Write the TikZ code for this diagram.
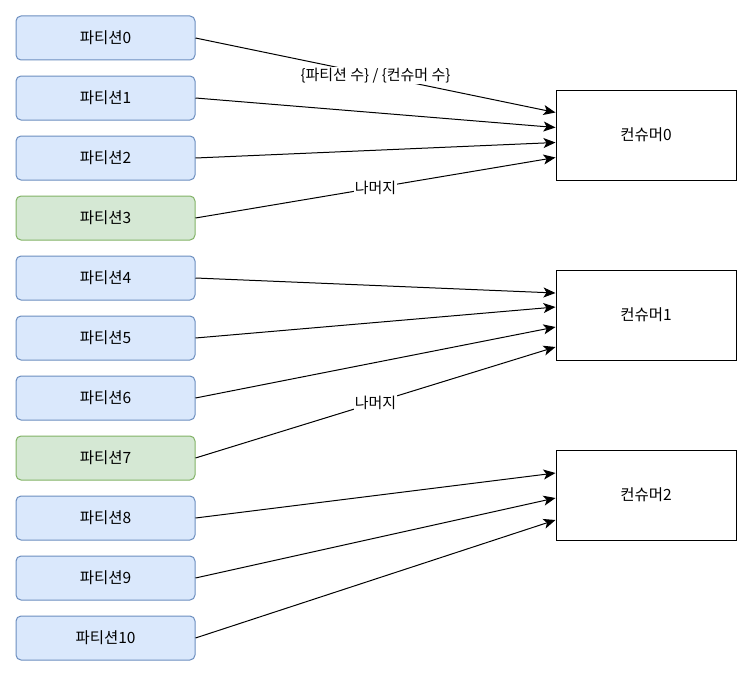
\documentclass[tikz,border=0pt]{standalone}
\usepackage{fontspec}
\newfontfamily\krfont{Noto Sans CJK KR}
\usetikzlibrary{arrows.meta}
\definecolor{partfill}{HTML}{DAE8FC}
\definecolor{partline}{HTML}{6C8EBF}
\definecolor{restfill}{HTML}{D5E8D4}
\definecolor{restline}{HTML}{82B366}

\begin{document}
\begin{tikzpicture}[x=1pt,y=-1pt,
  part/.style={draw=partline, fill=partfill, rounded corners=5pt, line width=1pt,
    minimum width=179pt, minimum height=44pt, inner sep=0pt,
    font=\krfont\fontsize{15.5}{17}\selectfont},
  rest/.style={part, draw=restline, fill=restfill},
  consumer/.style={draw, line width=1pt, minimum width=180pt, minimum height=90pt,
    inner sep=0pt, font=\krfont\fontsize{15.5}{17}\selectfont},
  link/.style={-{Stealth[length=12pt,width=10pt,inset=3pt]}, line width=1pt},
  tag/.style={fill=white, inner sep=1pt, font=\krfont\fontsize{15}{17}\selectfont}]
\useasboundingbox (0,0) rectangle (752,677);
% partitions
\foreach \i in {0,1,2,4,5,6,8,9,10}
  \node [part] (p\i) at (105.5,38+60*\i) {파티션\i};
\node [rest] (p3) at (105.5,218) {파티션3};
\node [rest] (p7) at (105.5,458) {파티션7};
% consumers
\foreach \j in {0,1,2}
  \node [consumer] (c\j) at (646,135+180*\j) {컨슈머\j};
% consumer0
\draw [link] (p0.east) -- node [tag] {\{파티션 수\} / \{컨슈머 수\}} ([yshift=22.5pt]c0.west);
\draw [link] (p1.east) -- ([yshift=7.5pt]c0.west);
\draw [link] (p2.east) -- ([yshift=-7.5pt]c0.west);
\draw [link] (p3.east) -- node [tag] {나머지} ([yshift=-22.5pt]c0.west);
% consumer1
\draw [link] (p4.east) -- ([yshift=22pt]c1.west);
\draw [link] (p5.east) -- ([yshift=8pt]c1.west);
\draw [link] (p6.east) -- ([yshift=-12pt]c1.west);
\draw [link] (p7.east) -- node [tag] {나머지} ([yshift=-32pt]c1.west);
% consumer2
\draw [link] (p8.east) -- ([yshift=22pt]c2.west);
\draw [link] (p9.east) -- ([yshift=-3pt]c2.west);
\draw [link] (p10.east) -- ([yshift=-25pt]c2.west);
\end{tikzpicture}
\end{document}
